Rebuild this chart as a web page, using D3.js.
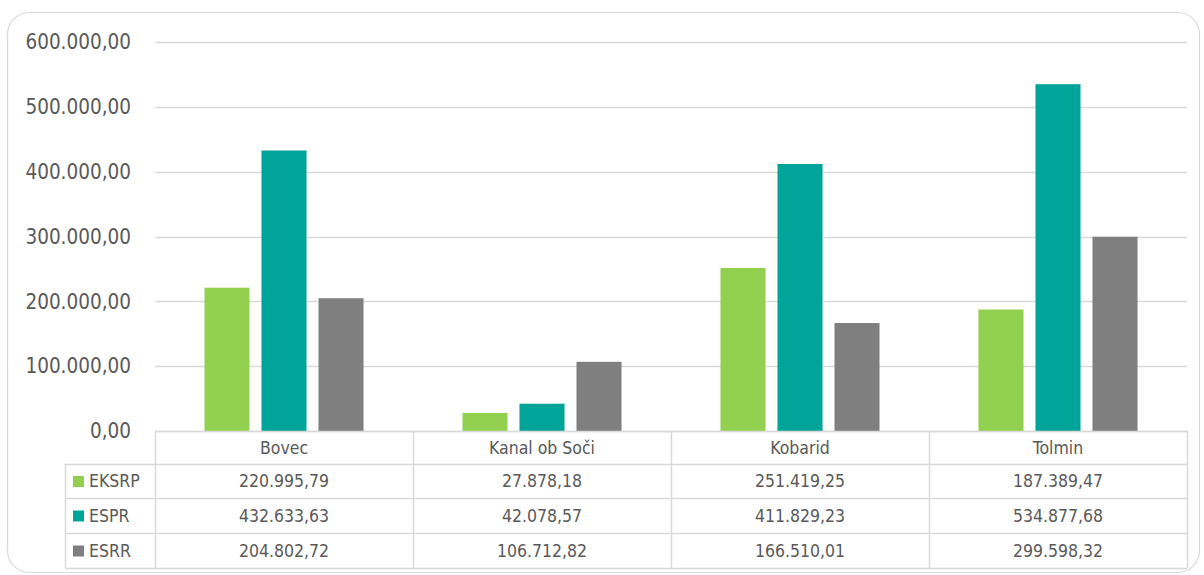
<!DOCTYPE html>
<html>
<head>
<meta charset="utf-8">
<script src="https://cdn.jsdelivr.net/npm/d3@7"></script>
<style>
  body { margin: 0; background: #fff; }
  svg text { font-family: "Liberation Sans Narrow", "Arial Narrow", "DejaVu Sans Condensed", sans-serif; fill: #595959; }
</style>
</head>
<body>
<div id="chart"></div>
<script>
var categories = ["Bovec", "Kanal ob Soči", "Kobarid", "Tolmin"];
var seriesNames = ["EKSRP", "ESPR", "ESRR"];
var seriesColors = ["#92d050", "#00a499", "#7f7f7f"];
var eksrp = [220995.79, 27878.18, 251419.25, 187389.47];
var espr = [432633.63, 42078.57, 411829.23, 534877.68];
var esrr = [204802.72, 106712.82, 166510.01, 299598.32];
var yTicks = [0, 100000, 200000, 300000, 400000, 500000, 600000];

var series = [eksrp, espr, esrr];

var width = 1204, height = 575;
var plotLeft = 155, plotRight = 1187, plotTop = 42, plotBottom = 431;
var rowH = [33, 34, 35, 35];

var svg = d3.select("#chart").append("svg")
	.attr("width", width)
	.attr("height", height);

// outer frame
svg.append("rect")
	.attr("x", 7.5).attr("y", 12.5)
	.attr("width", 1192).attr("height", 560)
	.attr("rx", 22).attr("ry", 22)
	.attr("fill", "#fff")
	.attr("stroke", "#d9d9d9")
	.attr("stroke-width", 1.2);

var x = d3.scaleBand().domain(categories).range([plotLeft, plotRight]);
var xs = d3.scaleBand().domain(d3.range(3)).range([0, x.bandwidth()])
	.paddingInner(0.21).paddingOuter(0.868);

var y = d3.scaleLinear().domain([0, 600000]).range([plotBottom, plotTop]);

var fmt = d3.formatLocale({decimal: ",", thousands: ".", grouping: [3], currency: ["", ""]}).format(",.2f");

// gridlines
svg.append("g").selectAll("line")
	.data(yTicks)
	.enter().append("line")
	.attr("x1", plotLeft).attr("x2", plotRight)
	.attr("y1", function(d) { return Math.round(y(d)) + 0.5; })
	.attr("y2", function(d) { return Math.round(y(d)) + 0.5; })
	.attr("stroke", "#d9d9d9")
	.attr("stroke-width", 1.5);

svg.append("g").selectAll("text")
	.data(yTicks)
	.enter().append("text")
	.attr("x", 131)
	.attr("y", function(d) { return y(d); })
	.attr("dy", "0.35em")
	.attr("text-anchor", "end")
	.attr("font-size", 20.5)
	.text(function(d) { return fmt(d); });

// bars
series.forEach(function(vals, si) {
	svg.append("g").selectAll("rect")
		.data(vals)
		.enter().append("rect")
		.attr("x", function(d, i) { return x(categories[i]) + xs(si); })
		.attr("width", xs.bandwidth())
		.attr("y", function(d) { return y(d); })
		.attr("height", function(d) { return plotBottom - y(d); })
		.attr("fill", seriesColors[si]);
});

// data table
var tbl = svg.append("g");
var rowY = [plotBottom];
rowH.forEach(function(h, i) { rowY.push(rowY[i] + h); });
var legLeft = 65;

tbl.append("line").attr("x1", plotLeft).attr("x2", plotRight)
	.attr("y1", rowY[0] + 0.5).attr("y2", rowY[0] + 0.5)
	.attr("stroke", "#d9d9d9").attr("stroke-width", 1.5);
for (var r = 1; r < rowY.length; r++) {
	tbl.append("line").attr("x1", legLeft).attr("x2", plotRight)
		.attr("y1", rowY[r] + 0.5).attr("y2", rowY[r] + 0.5)
		.attr("stroke", "#d9d9d9").attr("stroke-width", 1.5);
}
var vx = categories.map(function(c) { return x(c); }).concat([plotRight]);
vx.forEach(function(v) {
	tbl.append("line").attr("x1", v + 0.5).attr("x2", v + 0.5)
		.attr("y1", rowY[0]).attr("y2", rowY[4])
		.attr("stroke", "#d9d9d9").attr("stroke-width", 1.5);
});
tbl.append("line").attr("x1", legLeft + 0.5).attr("x2", legLeft + 0.5)
	.attr("y1", rowY[1]).attr("y2", rowY[4])
	.attr("stroke", "#d9d9d9").attr("stroke-width", 1.5);

// header
tbl.selectAll("text.cat")
	.data(categories)
	.enter().append("text")
	.attr("class", "cat")
	.attr("x", function(d) { return x(d) + x.bandwidth() / 2; })
	.attr("y", (rowY[0] + rowY[1]) / 2)
	.attr("dy", "0.35em")
	.attr("text-anchor", "middle")
	.attr("font-size", 17.5)
	.text(function(d) { return d; });

series.forEach(function(vals, si) {
	var cy = (rowY[si + 1] + rowY[si + 2]) / 2;
	tbl.append("rect")
		.attr("x", 73).attr("y", cy - 5)
		.attr("width", 11).attr("height", 11)
		.attr("fill", seriesColors[si]);
	tbl.append("text")
		.attr("x", 89).attr("y", cy)
		.attr("dy", "0.35em")
		.attr("font-size", 17.5)
		.text(seriesNames[si]);
	tbl.append("g").selectAll("text")
		.data(vals)
		.enter().append("text")
		.attr("x", function(d, i) { return x(categories[i]) + x.bandwidth() / 2; })
		.attr("y", cy)
		.attr("dy", "0.35em")
		.attr("text-anchor", "middle")
		.attr("font-size", 17.5)
		.text(function(d) { return fmt(d); });
});
</script>
</body>
</html>
